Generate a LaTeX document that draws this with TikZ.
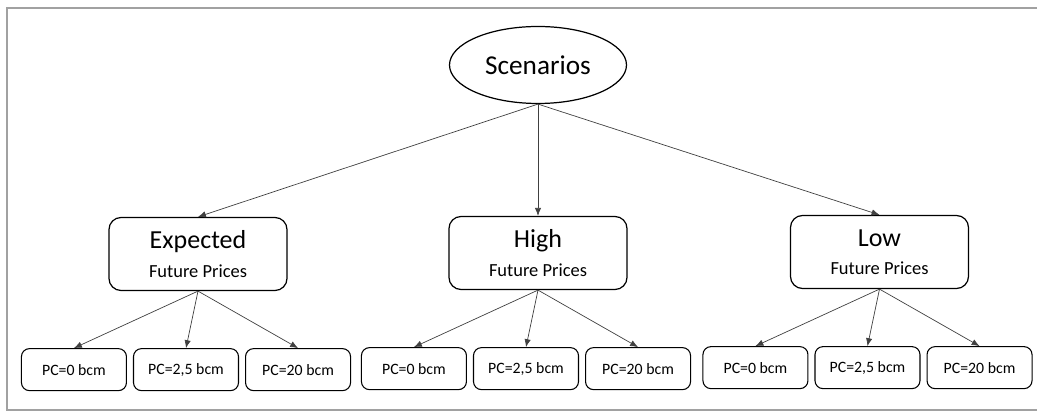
\documentclass[tikz,border=0pt]{standalone}
\usepackage{fontspec}
\setmainfont{Carlito}
\usepackage{tikz}
\usetikzlibrary{positioning, shapes.geometric, arrows.meta}
\tikzset{
	rootnode/.style={ellipse, draw, line width=0.7pt, minimum width=3.54cm, minimum height=1.54cm, font=\fontsize{15.5}{18}\selectfont}
}
\tikzset{
	pricebox/.style={rectangle, rounded corners=0.24cm, draw, line width=0.7pt, minimum width=3.56cm, minimum height=1.46cm, align=center, inner sep=0pt}
}
\tikzset{
	pcbox/.style={rectangle, rounded corners=0.16cm, draw, line width=0.6pt, minimum width=2.1cm, minimum height=0.84cm, font=\fontsize{9}{11}\selectfont}
}
\tikzset{
	link/.style={draw=black!75, line width=0.4pt, -{Latex[length=4.5pt,width=3.6pt]}}
}
\newcommand{\pricetext}[1]{{\fontsize{14.8}{17}\selectfont #1}\\[4pt]{\fontsize{10.5}{13}\selectfont Future Prices}}

\begin{document}
\begin{tikzpicture}
      \useasboundingbox (0,0) rectangle (20.74,-8.24);
      \draw[line width=1.1pt, black!37] (20.74,-0.16) -- (0.14,-0.16) -- (0.14,-8.2) -- (20.74,-8.2);
      \node[rootnode] (scen) at (10.76,-1.30) {Scenarios};
      \node[pricebox] (exp) at (3.96,-5.08) {\pricetext{Expected}};
      \node[pricebox] (high) at (10.76,-5.06) {\pricetext{High}};
      \node[pricebox] (low) at (17.59,-5.04) {\pricetext{Low}};
      \draw[link] (scen.south) -- (exp.north);
      \draw[link] (scen.south) -- (high.north);
      \draw[link] (scen.south) -- (low.north);
      % leaves of expected
      \node[pcbox, below=1.14cm of exp, xshift=-0.24cm] (exp2) {PC=2,5 bcm};
      \node[pcbox, left=0.12cm of exp2] (exp1) {PC=0 bcm};
      \node[pcbox, right=0.12cm of exp2] (exp3) {PC=20 bcm};
      % leaves of high
      \node[pcbox, below=1.14cm of high, xshift=-0.24cm] (high2) {PC=2,5 bcm};
      \node[pcbox, left=0.12cm of high2] (high1) {PC=0 bcm};
      \node[pcbox, right=0.12cm of high2] (high3) {PC=20 bcm};
      % leaves of low
      \node[pcbox, below=1.14cm of low, xshift=-0.24cm] (low2) {PC=2,5 bcm};
      \node[pcbox, left=0.12cm of low2] (low1) {PC=0 bcm};
      \node[pcbox, right=0.12cm of low2] (low3) {PC=20 bcm};
      \draw[link] (exp.south) -- (exp1.north);
      \draw[link] (exp.south) -- (exp2.north);
      \draw[link] (exp.south) -- (exp3.north);
      \draw[link] (high.south) -- (high1.north);
      \draw[link] (high.south) -- (high2.north);
      \draw[link] (high.south) -- (high3.north);
      \draw[link] (low.south) -- (low1.north);
      \draw[link] (low.south) -- (low2.north);
      \draw[link] (low.south) -- (low3.north);
    \end{tikzpicture}
\end{document}
